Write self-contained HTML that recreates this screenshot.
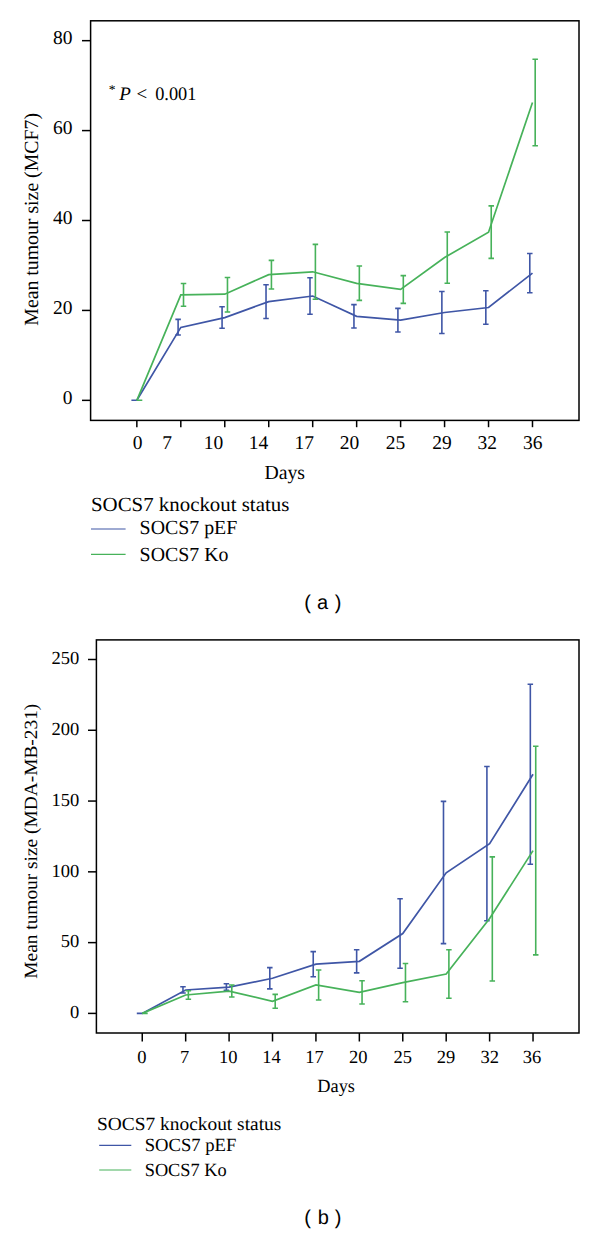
<!DOCTYPE html>
<html><head><meta charset="utf-8"><title>SOCS7 knockout tumour size</title>
<style>
html,body{margin:0;padding:0;background:#fff;}
body{width:600px;height:1234px;overflow:hidden;}
svg{display:block;font-family:"Liberation Serif", serif;text-rendering:geometricPrecision;}
</style></head>
<body>
<svg width="600" height="1234" viewBox="0 0 600 1234" font-family='"Liberation Serif", serif' fill="#000">
<rect width="600" height="1234" fill="#fff"/>
<rect x="90.6" y="20.8" width="488.4" height="399.6" fill="none" stroke="#000" stroke-width="1.5"/>
<line x1="82" y1="400.35" x2="90.6" y2="400.35" stroke="#000" stroke-width="1.5"/>
<text x="72.5" y="403.65000000000003" font-size="19.5" text-anchor="end">0</text>
<line x1="82" y1="310.43" x2="90.6" y2="310.43" stroke="#000" stroke-width="1.5"/>
<text x="72.5" y="313.73" font-size="19.5" text-anchor="end">20</text>
<line x1="82" y1="220.51" x2="90.6" y2="220.51" stroke="#000" stroke-width="1.5"/>
<text x="72.5" y="223.81" font-size="19.5" text-anchor="end">40</text>
<line x1="82" y1="130.59" x2="90.6" y2="130.59" stroke="#000" stroke-width="1.5"/>
<text x="72.5" y="133.89" font-size="19.5" text-anchor="end">60</text>
<line x1="82" y1="40.67" x2="90.6" y2="40.67" stroke="#000" stroke-width="1.5"/>
<text x="72.5" y="43.969999999999956" font-size="19.5" text-anchor="end">80</text>
<line x1="136.85" y1="420.4" x2="136.85" y2="427.2" stroke="#000" stroke-width="1.5"/>
<line x1="180.81" y1="420.4" x2="180.81" y2="427.2" stroke="#000" stroke-width="1.5"/>
<line x1="224.77" y1="420.4" x2="224.77" y2="427.2" stroke="#000" stroke-width="1.5"/>
<line x1="268.73" y1="420.4" x2="268.73" y2="427.2" stroke="#000" stroke-width="1.5"/>
<line x1="312.69" y1="420.4" x2="312.69" y2="427.2" stroke="#000" stroke-width="1.5"/>
<line x1="356.65" y1="420.4" x2="356.65" y2="427.2" stroke="#000" stroke-width="1.5"/>
<line x1="400.61" y1="420.4" x2="400.61" y2="427.2" stroke="#000" stroke-width="1.5"/>
<line x1="444.57" y1="420.4" x2="444.57" y2="427.2" stroke="#000" stroke-width="1.5"/>
<line x1="488.53" y1="420.4" x2="488.53" y2="427.2" stroke="#000" stroke-width="1.5"/>
<line x1="532.49" y1="420.4" x2="532.49" y2="427.2" stroke="#000" stroke-width="1.5"/>
<text x="137.7" y="448.5" font-size="19.5" text-anchor="middle">0</text>
<text x="167" y="448.5" font-size="19.5" text-anchor="middle">7</text>
<text x="213.6" y="448.5" font-size="19.5" text-anchor="middle">10</text>
<text x="258.6" y="448.5" font-size="19.5" text-anchor="middle">14</text>
<text x="304.3" y="448.5" font-size="19.5" text-anchor="middle">17</text>
<text x="349.6" y="448.5" font-size="19.5" text-anchor="middle">20</text>
<text x="395.5" y="448.5" font-size="19.5" text-anchor="middle">25</text>
<text x="442" y="448.5" font-size="19.5" text-anchor="middle">29</text>
<text x="487.3" y="448.5" font-size="19.5" text-anchor="middle">32</text>
<text x="532.8" y="448.5" font-size="19.5" text-anchor="middle">36</text>
<text x="264.4" y="479.2" font-size="20" textLength="40.6" lengthAdjust="spacingAndGlyphs">Days</text>
<text transform="translate(37.8,325.7) rotate(-90)" x="0" y="0" font-size="20" textLength="212.7" lengthAdjust="spacingAndGlyphs">Mean tumour size (MCF7)</text>
<path d="M136.85 400.30 L180.81 327.40 L224.77 317.60 L268.73 301.60 L312.69 296.00 L356.65 316.30 L400.61 320.20 L444.57 312.50 L488.53 307.50 L532.49 273.10" fill="none" stroke="#3f56a6" stroke-width="1.7" stroke-linejoin="miter"/>
<path d="M134.15 400.30V400.30M131.40 400.30H136.90M131.40 400.30H136.90" fill="none" stroke="#3f56a6" stroke-width="1.6"/>
<path d="M178.11 319.40V335.00M175.36 319.40H180.86M175.36 335.00H180.86" fill="none" stroke="#3f56a6" stroke-width="1.6"/>
<path d="M222.07 306.70V328.30M219.32 306.70H224.82M219.32 328.30H224.82" fill="none" stroke="#3f56a6" stroke-width="1.6"/>
<path d="M266.03 284.70V318.50M263.28 284.70H268.78M263.28 318.50H268.78" fill="none" stroke="#3f56a6" stroke-width="1.6"/>
<path d="M309.99 277.80V314.20M307.24 277.80H312.74M307.24 314.20H312.74" fill="none" stroke="#3f56a6" stroke-width="1.6"/>
<path d="M353.95 304.60V328.00M351.20 304.60H356.70M351.20 328.00H356.70" fill="none" stroke="#3f56a6" stroke-width="1.6"/>
<path d="M397.91 308.40V332.00M395.16 308.40H400.66M395.16 332.00H400.66" fill="none" stroke="#3f56a6" stroke-width="1.6"/>
<path d="M441.87 291.50V333.50M439.12 291.50H444.62M439.12 333.50H444.62" fill="none" stroke="#3f56a6" stroke-width="1.6"/>
<path d="M485.83 290.80V324.20M483.08 290.80H488.58M483.08 324.20H488.58" fill="none" stroke="#3f56a6" stroke-width="1.6"/>
<path d="M529.79 253.50V292.70M527.04 253.50H532.54M527.04 292.70H532.54" fill="none" stroke="#3f56a6" stroke-width="1.6"/>
<path d="M136.85 400.30 L180.81 294.80 L224.77 294.20 L268.73 274.60 L312.69 271.80 L356.65 283.40 L400.61 289.40 L444.57 257.50 L488.53 232.20 L532.49 102.50" fill="none" stroke="#47b25a" stroke-width="1.7" stroke-linejoin="miter"/>
<path d="M139.55 400.30V400.30M136.80 400.30H142.30M136.80 400.30H142.30" fill="none" stroke="#47b25a" stroke-width="1.6"/>
<path d="M183.51 283.50V306.20M180.76 283.50H186.26M180.76 306.20H186.26" fill="none" stroke="#47b25a" stroke-width="1.6"/>
<path d="M227.47 277.50V312.00M224.72 277.50H230.22M224.72 312.00H230.22" fill="none" stroke="#47b25a" stroke-width="1.6"/>
<path d="M271.43 260.40V289.00M268.68 260.40H274.18M268.68 289.00H274.18" fill="none" stroke="#47b25a" stroke-width="1.6"/>
<path d="M315.39 244.40V299.20M312.64 244.40H318.14M312.64 299.20H318.14" fill="none" stroke="#47b25a" stroke-width="1.6"/>
<path d="M359.35 266.00V300.40M356.60 266.00H362.10M356.60 300.40H362.10" fill="none" stroke="#47b25a" stroke-width="1.6"/>
<path d="M403.31 275.60V303.40M400.56 275.60H406.06M400.56 303.40H406.06" fill="none" stroke="#47b25a" stroke-width="1.6"/>
<path d="M447.27 232.00V283.30M444.52 232.00H450.02M444.52 283.30H450.02" fill="none" stroke="#47b25a" stroke-width="1.6"/>
<path d="M491.23 205.90V258.40M488.48 205.90H493.98M488.48 258.40H493.98" fill="none" stroke="#47b25a" stroke-width="1.6"/>
<path d="M535.19 59.30V145.70M532.44 59.30H537.94M532.44 145.70H537.94" fill="none" stroke="#47b25a" stroke-width="1.6"/>
<text x="91" y="511.2" font-size="20" textLength="198.3" lengthAdjust="spacingAndGlyphs">SOCS7 knockout status</text>
<line x1="91" y1="529" x2="125.6" y2="529" stroke="#3f56a6" stroke-width="1.2"/>
<line x1="91" y1="554.4" x2="125.6" y2="554.4" stroke="#47b25a" stroke-width="1.2"/>
<text x="139.6" y="534.2" font-size="20" textLength="97.7" lengthAdjust="spacingAndGlyphs">SOCS7 pEF</text>
<text x="139.6" y="561.2" font-size="20" textLength="88.9" lengthAdjust="spacingAndGlyphs">SOCS7 Ko</text>
<text x="307.5" y="609" font-family="'Liberation Sans', sans-serif" font-size="20" text-anchor="middle">(</text>
<text x="322.5" y="609" font-family="'Liberation Sans', sans-serif" font-size="20" text-anchor="middle">a</text>
<text x="338" y="609" font-family="'Liberation Sans', sans-serif" font-size="20" text-anchor="middle">)</text>
<text x="108.8" y="93.5" font-size="13.5">*</text>
<text x="119.3" y="100.3" font-size="19" font-style="italic">P</text>
<text x="136.5" y="100.3" font-size="19">&lt;</text>
<text x="155.2" y="100.3" font-size="19" textLength="41.2" lengthAdjust="spacingAndGlyphs">0.001</text>
<rect x="96.4" y="639.9" width="482.6" height="393.1" fill="none" stroke="#000" stroke-width="1.5"/>
<line x1="88" y1="1013.4" x2="96.4" y2="1013.4" stroke="#000" stroke-width="1.5"/>
<text x="79.2" y="1018.1999999999999" font-size="18.5" text-anchor="end">0</text>
<line x1="88" y1="942.62" x2="96.4" y2="942.62" stroke="#000" stroke-width="1.5"/>
<text x="79.2" y="947.42" font-size="18.5" text-anchor="end">50</text>
<line x1="88" y1="871.84" x2="96.4" y2="871.84" stroke="#000" stroke-width="1.5"/>
<text x="79.2" y="876.6399999999999" font-size="18.5" text-anchor="end">100</text>
<line x1="88" y1="801.06" x2="96.4" y2="801.06" stroke="#000" stroke-width="1.5"/>
<text x="79.2" y="805.8599999999999" font-size="18.5" text-anchor="end">150</text>
<line x1="88" y1="730.28" x2="96.4" y2="730.28" stroke="#000" stroke-width="1.5"/>
<text x="79.2" y="735.0799999999999" font-size="18.5" text-anchor="end">200</text>
<line x1="88" y1="659.5" x2="96.4" y2="659.5" stroke="#000" stroke-width="1.5"/>
<text x="79.2" y="664.3" font-size="18.5" text-anchor="end">250</text>
<line x1="142.25" y1="1033.0" x2="142.25" y2="1041.5" stroke="#000" stroke-width="1.5"/>
<line x1="185.67" y1="1033.0" x2="185.67" y2="1041.5" stroke="#000" stroke-width="1.5"/>
<line x1="229.09" y1="1033.0" x2="229.09" y2="1041.5" stroke="#000" stroke-width="1.5"/>
<line x1="272.51" y1="1033.0" x2="272.51" y2="1041.5" stroke="#000" stroke-width="1.5"/>
<line x1="315.93" y1="1033.0" x2="315.93" y2="1041.5" stroke="#000" stroke-width="1.5"/>
<line x1="359.35" y1="1033.0" x2="359.35" y2="1041.5" stroke="#000" stroke-width="1.5"/>
<line x1="402.77" y1="1033.0" x2="402.77" y2="1041.5" stroke="#000" stroke-width="1.5"/>
<line x1="446.19" y1="1033.0" x2="446.19" y2="1041.5" stroke="#000" stroke-width="1.5"/>
<line x1="489.61" y1="1033.0" x2="489.61" y2="1041.5" stroke="#000" stroke-width="1.5"/>
<line x1="533.03" y1="1033.0" x2="533.03" y2="1041.5" stroke="#000" stroke-width="1.5"/>
<text x="141.75" y="1063.2" font-size="18.5" text-anchor="middle">0</text>
<text x="184.67" y="1063.2" font-size="18.5" text-anchor="middle">7</text>
<text x="228.29" y="1063.2" font-size="18.5" text-anchor="middle">10</text>
<text x="271.56" y="1063.2" font-size="18.5" text-anchor="middle">14</text>
<text x="314.58" y="1063.2" font-size="18.5" text-anchor="middle">17</text>
<text x="358.15" y="1063.2" font-size="18.5" text-anchor="middle">20</text>
<text x="402.67" y="1063.2" font-size="18.5" text-anchor="middle">25</text>
<text x="445.99" y="1063.2" font-size="18.5" text-anchor="middle">29</text>
<text x="489.71" y="1063.2" font-size="18.5" text-anchor="middle">32</text>
<text x="532.03" y="1063.2" font-size="18.5" text-anchor="middle">36</text>
<text x="317.3" y="1092" font-size="18.6" textLength="37.7" lengthAdjust="spacingAndGlyphs">Days</text>
<text transform="translate(36.9,978.7) rotate(-90)" x="0" y="0" font-size="18.6" textLength="275" lengthAdjust="spacingAndGlyphs">Mean tumour size (MDA-MB-231)</text>
<path d="M142.25 1013.40 L185.67 990.00 L229.09 987.10 L272.51 978.30 L315.93 964.20 L359.35 961.30 L402.77 933.50 L446.19 872.80 L489.61 843.70 L533.03 774.30" fill="none" stroke="#3f56a6" stroke-width="1.7" stroke-linejoin="miter"/>
<path d="M139.55 1013.40V1013.40M136.80 1013.40H142.30M136.80 1013.40H142.30" fill="none" stroke="#3f56a6" stroke-width="1.6"/>
<path d="M182.97 986.75V993.00M180.22 986.75H185.72M180.22 993.00H185.72" fill="none" stroke="#3f56a6" stroke-width="1.6"/>
<path d="M226.39 983.70V990.40M223.64 983.70H229.14M223.64 990.40H229.14" fill="none" stroke="#3f56a6" stroke-width="1.6"/>
<path d="M269.81 967.60V988.90M267.06 967.60H272.56M267.06 988.90H272.56" fill="none" stroke="#3f56a6" stroke-width="1.6"/>
<path d="M313.23 951.60V976.70M310.48 951.60H315.98M310.48 976.70H315.98" fill="none" stroke="#3f56a6" stroke-width="1.6"/>
<path d="M356.65 949.70V972.90M353.90 949.70H359.40M353.90 972.90H359.40" fill="none" stroke="#3f56a6" stroke-width="1.6"/>
<path d="M400.07 898.70V968.30M397.32 898.70H402.82M397.32 968.30H402.82" fill="none" stroke="#3f56a6" stroke-width="1.6"/>
<path d="M443.49 801.40V943.60M440.74 801.40H446.24M440.74 943.60H446.24" fill="none" stroke="#3f56a6" stroke-width="1.6"/>
<path d="M486.91 766.50V920.70M484.16 766.50H489.66M484.16 920.70H489.66" fill="none" stroke="#3f56a6" stroke-width="1.6"/>
<path d="M530.33 684.20V864.30M527.58 684.20H533.08M527.58 864.30H533.08" fill="none" stroke="#3f56a6" stroke-width="1.6"/>
<path d="M142.25 1013.40 L185.67 995.00 L229.09 991.10 L272.51 1001.30 L315.93 985.00 L359.35 992.30 L402.77 982.60 L446.19 974.00 L489.61 918.50 L533.03 850.60" fill="none" stroke="#47b25a" stroke-width="1.7" stroke-linejoin="miter"/>
<path d="M144.95 1013.40V1013.40M142.20 1013.40H147.70M142.20 1013.40H147.70" fill="none" stroke="#47b25a" stroke-width="1.6"/>
<path d="M188.37 990.75V999.25M185.62 990.75H191.12M185.62 999.25H191.12" fill="none" stroke="#47b25a" stroke-width="1.6"/>
<path d="M231.79 985.00V997.00M229.04 985.00H234.54M229.04 997.00H234.54" fill="none" stroke="#47b25a" stroke-width="1.6"/>
<path d="M275.21 994.40V1008.30M272.46 994.40H277.96M272.46 1008.30H277.96" fill="none" stroke="#47b25a" stroke-width="1.6"/>
<path d="M318.63 970.00V1000.00M315.88 970.00H321.38M315.88 1000.00H321.38" fill="none" stroke="#47b25a" stroke-width="1.6"/>
<path d="M362.05 980.70V1004.00M359.30 980.70H364.80M359.30 1004.00H364.80" fill="none" stroke="#47b25a" stroke-width="1.6"/>
<path d="M405.47 963.50V1001.70M402.72 963.50H408.22M402.72 1001.70H408.22" fill="none" stroke="#47b25a" stroke-width="1.6"/>
<path d="M448.89 949.70V998.30M446.14 949.70H451.64M446.14 998.30H451.64" fill="none" stroke="#47b25a" stroke-width="1.6"/>
<path d="M492.31 856.90V981.00M489.56 856.90H495.06M489.56 981.00H495.06" fill="none" stroke="#47b25a" stroke-width="1.6"/>
<path d="M535.73 746.20V954.90M532.98 746.20H538.48M532.98 954.90H538.48" fill="none" stroke="#47b25a" stroke-width="1.6"/>
<text x="97" y="1129.8" font-size="18.6" textLength="184.3" lengthAdjust="spacingAndGlyphs">SOCS7 knockout status</text>
<line x1="99.2" y1="1145.3" x2="131.3" y2="1145.3" stroke="#3f56a6" stroke-width="1.2"/>
<line x1="99.2" y1="1170" x2="131.3" y2="1170" stroke="#47b25a" stroke-width="1.2"/>
<text x="144.7" y="1151.4" font-size="18.6" textLength="91.6" lengthAdjust="spacingAndGlyphs">SOCS7 pEF</text>
<text x="144.7" y="1176" font-size="18.6" textLength="82" lengthAdjust="spacingAndGlyphs">SOCS7 Ko</text>
<text x="307.5" y="1224" font-family="'Liberation Sans', sans-serif" font-size="20" text-anchor="middle">(</text>
<text x="323.2" y="1224" font-family="'Liberation Sans', sans-serif" font-size="20" text-anchor="middle">b</text>
<text x="338.2" y="1224" font-family="'Liberation Sans', sans-serif" font-size="20" text-anchor="middle">)</text>
</svg>
</body></html>
